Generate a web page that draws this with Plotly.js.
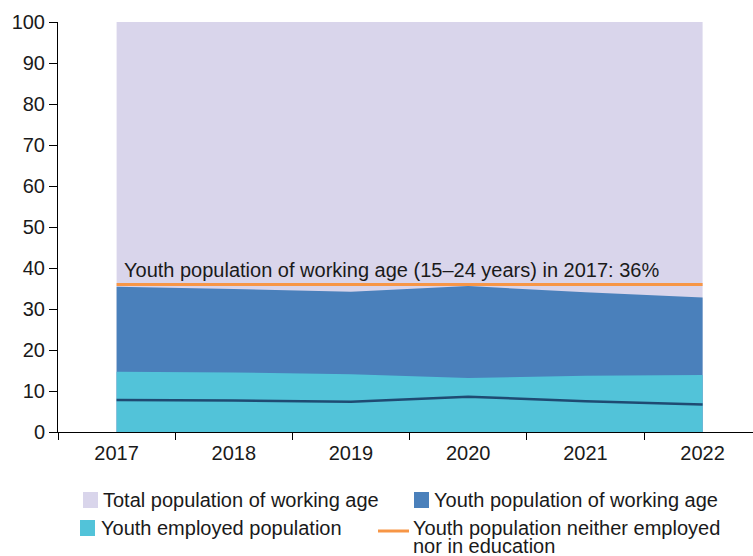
<!DOCTYPE html>
<html>
<head>
<meta charset="utf-8">
<script src="https://cdn.plot.ly/plotly-3.0.1.min.js"></script>
<style>html,body{margin:0;padding:0;background:#fff;}#chart{width:753px;height:556px;}</style>
</head>
<body>
<div id="chart"></div>
<script>
// ---- data ----
const years = ['2017', '2018', '2019', '2020', '2021', '2022'];
const totalWorkingAge = [100, 100, 100, 100, 100, 100];
const youthWorkingAge = [35.4, 34.9, 34.2, 35.6, 34.1, 32.8];
const youthEmployed = [14.7, 14.5, 14.1, 13.2, 13.7, 13.9];
const youthNeet = [7.8, 7.7, 7.4, 8.6, 7.5, 6.7];
const youthShare2017 = [36, 36, 36, 36, 36, 36];
const yTicks = [0, 10, 20, 30, 40, 50, 60, 70, 80, 90, 100];
const refLabel = 'Youth population of working age (15–24 years) in 2017: 36%';
const legendLabels = ['Total population of working age', 'Youth population of working age',
  'Youth employed population', 'Youth population neither employed', 'nor in education'];

const C = {lav: '#D9D5EB', blue: '#4A80BB', cyan: '#52C3D9', navy: '#1F4A72', orange: '#F79646'};
const FONT = 'Liberation Sans, Arial, sans-serif';
const FS = 20;

// plot-area pixel geometry helpers (for legend placement only)
const L = 58, R = 0, T = 22, B = 124, W = 753, H = 556;
const pw = W - L - R, ph = H - T - B;
const px = x => (x - L) / pw;
const py = y => (H - B - y) / ph;

const traces = [
  {x: years, y: totalWorkingAge, type: 'scatter', mode: 'lines', fill: 'tozeroy',
   fillcolor: C.lav, line: {width: 0, color: C.lav}, name: legendLabels[0], showlegend: false, hoverinfo: 'skip'},
  {x: years, y: youthWorkingAge, type: 'scatter', mode: 'lines', fill: 'tozeroy',
   fillcolor: C.blue, line: {width: 0, color: C.blue}, name: legendLabels[1], showlegend: false},
  {x: years, y: youthEmployed, type: 'scatter', mode: 'lines', fill: 'tozeroy',
   fillcolor: C.cyan, line: {width: 0, color: C.cyan}, name: legendLabels[2], showlegend: false},
  {x: years, y: youthNeet, type: 'scatter', mode: 'lines',
   line: {width: 2.5, color: C.navy}, name: 'Youth NEET', showlegend: false},
  {x: years, y: youthShare2017, type: 'scatter', mode: 'lines',
   line: {width: 3, color: C.orange}, name: legendLabels[3], showlegend: false}
];

const legendItems = [
  {kind: 'square', color: C.lav, sx: 83, cy: 500, tx: 101, text: legendLabels[0]},
  {kind: 'square', color: C.blue, sx: 414, cy: 500, tx: 432, text: legendLabels[1]},
  {kind: 'square', color: C.cyan, sx: 80, cy: 528, tx: 99, text: legendLabels[2]},
  {kind: 'line', color: C.orange, sx: 378, cy: 528, tx: 411, text: legendLabels[3]},
  {kind: 'none', tx: 411, cy: 546, text: legendLabels[4]}
];

const shapes = [];
const textFont = {family: FONT, size: FS, color: '#1a1a1a'};
const annotations = [{
  xref: 'paper', yref: 'y', x: px(122), y: 39.6, xanchor: 'left', yanchor: 'middle',
  text: refLabel, showarrow: false, font: textFont
}];
legendItems.forEach(it => {
  if (it.kind === 'square') {
    shapes.push({type: 'rect', xref: 'paper', yref: 'paper', x0: px(it.sx), x1: px(it.sx + 15),
      y0: py(it.cy - 8), y1: py(it.cy + 8), fillcolor: it.color, line: {width: 0}});
  } else if (it.kind === 'line') {
    shapes.push({type: 'line', xref: 'paper', yref: 'paper', x0: px(it.sx), x1: px(it.sx + 31),
      y0: py(it.cy + 3), y1: py(it.cy + 3), line: {color: it.color, width: 3}});
  }
  annotations.push({xref: 'paper', yref: 'paper', x: px(it.tx), y: py(it.cy), xanchor: 'left', yanchor: 'middle',
    text: it.text, showarrow: false, font: textFont});
});

const layout = {
  width: W, height: H,
  margin: {l: L, r: R, t: T, b: B, pad: 0},
  paper_bgcolor: '#fff', plot_bgcolor: '#fff',
  showlegend: false,
  font: textFont,
  xaxis: {type: 'category', categoryorder: 'array', categoryarray: years,
    range: [-0.5, 5.43], tickson: 'boundaries', ticks: 'outside', ticklen: 7, tickcolor: '#000',
    ticklabelstandoff: 3,
    showline: true, linecolor: '#000', linewidth: 1, showgrid: false, zeroline: false,
    tickfont: textFont, fixedrange: true},
  yaxis: {range: [0, 100], tickvals: yTicks, ticks: 'outside', ticklen: 8, tickcolor: '#000',
    showline: true, linecolor: '#000', linewidth: 1, showgrid: false, zeroline: false,
    tickfont: textFont, fixedrange: true},
  shapes: shapes,
  annotations: annotations
};

Plotly.newPlot('chart', traces, layout, {displayModeBar: false, staticPlot: true});
</script>
</body>
</html>
